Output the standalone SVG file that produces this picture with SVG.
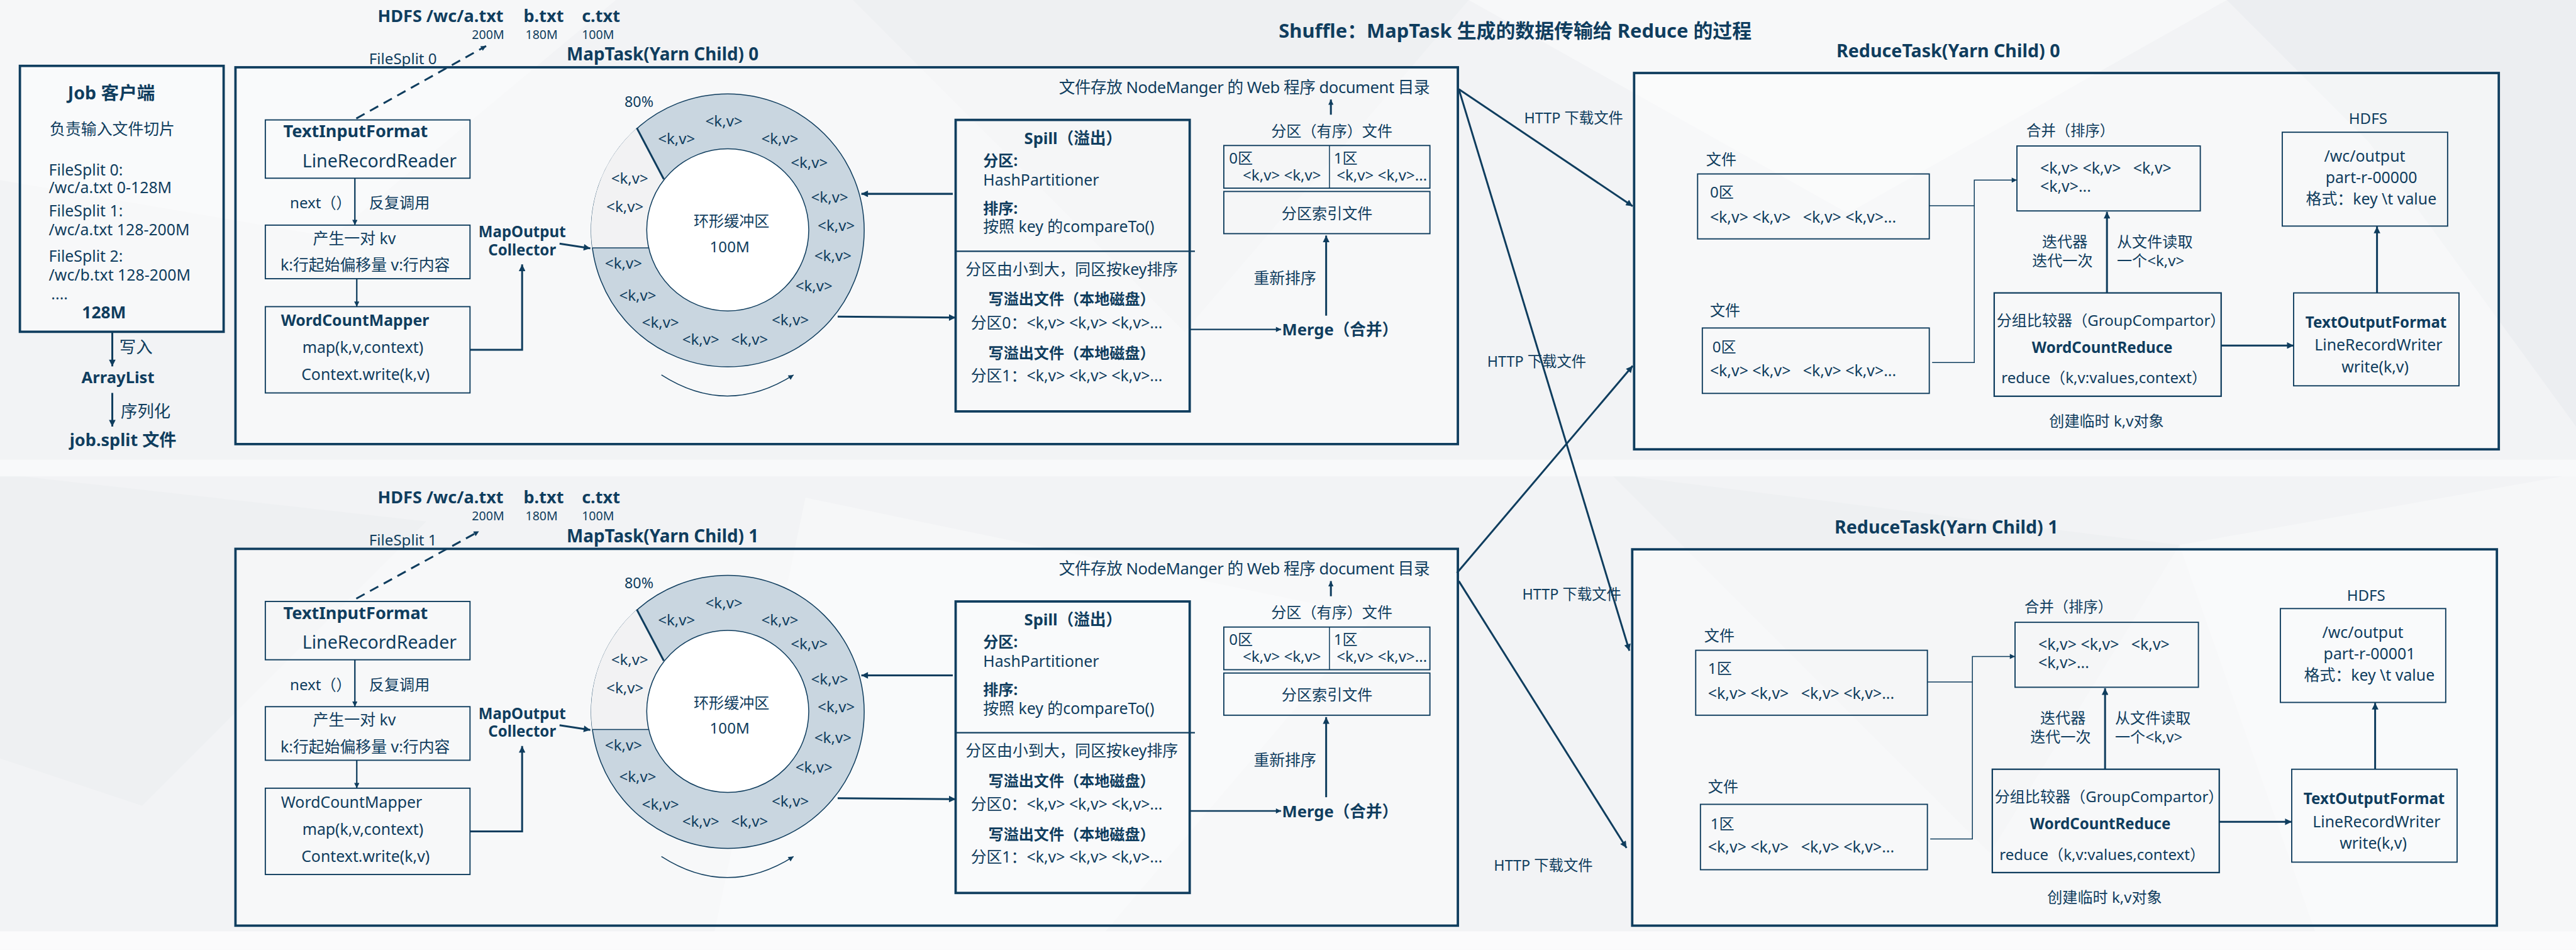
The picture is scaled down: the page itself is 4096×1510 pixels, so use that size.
<svg xmlns="http://www.w3.org/2000/svg" width="4096" height="1510" viewBox="0 0 4096 1510">
<defs>
<marker id="ah" viewBox="0 0 10 10" refX="10" refY="5" markerWidth="18" markerHeight="14" markerUnits="userSpaceOnUse" orient="auto"><path d="M0,0 L10,5 L0,10 z" fill="#0f3d5e"/></marker>
<marker id="ahs" viewBox="0 0 10 10" refX="10" refY="5" markerWidth="14" markerHeight="11" markerUnits="userSpaceOnUse" orient="auto"><path d="M0,0 L10,5 L0,10 z" fill="#0f3d5e"/></marker>
</defs>
<style>
text{font-family:"Noto Sans","Noto Sans CJK SC",sans-serif;fill:#0f3d5e;font-size:33px}
.b{font-weight:700}
.m{text-anchor:middle}
.s26{font-size:26px}.s31{font-size:31px}.s32{font-size:32px}.s33{font-size:33px}.s34{font-size:34px}.s35{font-size:35px}.s36{font-size:36px}.s37{font-size:37px}.s38{font-size:38px}.s41{font-size:41px}
.kv{font-size:32px;text-anchor:middle}
.box{fill:none;stroke:#0f3d5e;stroke-width:2.5}
.frame{fill:#ffffff;fill-opacity:.4;stroke:#0f3d5e;stroke-width:5}
.ln{fill:none;stroke:#0f3d5e;stroke-width:4}
.ln3{fill:none;stroke:#0f3d5e;stroke-width:3}
.ln2{fill:none;stroke:#0f3d5e;stroke-width:2}
.dash{fill:none;stroke:#0f3d5e;stroke-width:4;stroke-dasharray:20 13}
</style>
<g transform="scale(0.75336)">
<g id="background">
<rect x="0" y="0" width="5437" height="2004" fill="#f2f3f5"/>
<polygon points="0,0 1300,0 700,500 0,380" fill="#f6f7f8"/>
<polygon points="1800,0 3100,0 2500,700" fill="#eef0f2"/>
<polygon points="3100,0 4700,0 3900,450" fill="#f7f8f9"/>
<polygon points="4700,0 5437,0 5437,900 5000,300" fill="#eceef1"/>
<polygon points="0,1000 900,1100 300,1700 0,1600" fill="#eef0f2"/>
<polygon points="1700,1050 2900,1300 2300,2004 1500,2004" fill="#f6f7f8"/>
<polygon points="3400,1000 4600,1150 4200,1800" fill="#eef0f2"/>
<polygon points="4600,1150 5437,1000 5437,2004 4900,2004" fill="#f6f7f8"/>
<rect x="0" y="970" width="5437" height="35" fill="#f8f9fa"/>
<rect x="0" y="1965" width="5437" height="39" fill="#fbfbfc"/>
</g>

<text id="title" class="b s41" x="2699" y="80">Shuffle：MapTask 生成的数据传输给 Reduce 的过程</text>

<g id="job-client">
<rect class="frame" x="42" y="139" width="430" height="561"/>
<text class="b s38 m" x="235" y="210">Job 客户端</text>
<text x="105" y="284">负责输入文件切片</text>
<text x="103" y="370">FileSplit 0:</text>
<text x="103" y="408">/wc/a.txt 0-128M</text>
<text x="103" y="456">FileSplit 1:</text>
<text x="103" y="496">/wc/a.txt 128-200M</text>
<text x="103" y="552">FileSplit 2:</text>
<text x="103" y="592">/wc/b.txt 128-200M</text>
<text x="108" y="632">....</text>
<text class="b s35" x="173" y="672">128M</text>
</g>
<g id="arraylist">
<text class="s35" x="252" y="745">写入</text>
<text class="b s34 m" x="249" y="809">ArrayList</text>
</g>
<g id="jobsplit">
<text class="s35" x="255" y="880">序列化</text>
<text class="b s36" x="147" y="941">job.split 文件</text>
</g>

<g id="maptask0">
<text class="b s36" x="797" y="46">HDFS /wc/a.txt</text>
<text class="b s36" x="1105" y="46">b.txt</text>
<text class="b s36" x="1228" y="46">c.txt</text>
<text class="s26" x="996" y="82">200M</text>
<text class="s26" x="1109" y="82">180M</text>
<text class="s26" x="1228" y="82">100M</text>
<text class="s32" x="779" y="135">FileSplit 0</text>
<text class="b s37" x="1196" y="128">MapTask(Yarn Child) 0</text>
<rect class="frame" x="497" y="142" width="2580" height="795"/>
<g id="mt0-textinput">
<rect class="box" x="560" y="253" width="432" height="123"/>
<text class="b s36" x="598" y="290">TextInputFormat</text>
<text class="s38" x="638" y="353">LineRecordReader</text>
</g>
<text class="s32" x="612" y="440">next（）</text>
<text class="s32" x="779" y="440">反复调用</text>
<g id="mt0-kv">
<rect class="box" x="560" y="475" width="432" height="113"/>
<text class="m" x="748" y="515">产生一对 kv</text>
<text x="592" y="571">k:行起始偏移量 v:行内容</text>
</g>
<g id="mt0-mapper">
<rect class="box" x="560" y="647" width="432" height="182"/>
<text class="b s33" x="593" y="688">WordCountMapper</text>
<text x="638" y="745">map(k,v,context)</text>
<text x="636" y="802">Context.write(k,v)</text>
</g>
<g id="mt0-collector">
<text class="b s32 m" x="1102" y="501">MapOutput</text>
<text class="b s32 m" x="1102" y="539">Collector</text>
</g>
<g id="mt0-ring">
<circle cx="1536" cy="486" r="288" fill="#c9d6e0" stroke="#0f3d5e" stroke-width="2"/>
<path d="M1250,523 A288,288 0 0 1 1344,270 L1401,378 A171,171 0 0 0 1369,523 Z" fill="#f2f2f3"/>
<circle cx="1536" cy="485" r="171" fill="#ffffff" stroke="#0f3d5e" stroke-width="2"/>
<line x1="1250" y1="523" x2="1369" y2="523" stroke="#0f3d5e" stroke-width="2"/>
<line x1="1344" y1="270" x2="1401" y2="378" stroke="#0f3d5e" stroke-width="4"/>
<text class="s31" x="1318" y="225">80%</text>
<text class="s32 m" x="1544" y="478">环形缓冲区</text>
<text class="s32 m" x="1540" y="532">100M</text>
<text class="kv" x="1528" y="267">&lt;k,v&gt;</text>
<text class="kv" x="1428" y="304">&lt;k,v&gt;</text>
<text class="kv" x="1646" y="304">&lt;k,v&gt;</text>
<text class="kv" x="1708" y="354">&lt;k,v&gt;</text>
<text class="kv" x="1329" y="387">&lt;k,v&gt;</text>
<text class="kv" x="1751" y="428">&lt;k,v&gt;</text>
<text class="kv" x="1319" y="447">&lt;k,v&gt;</text>
<text class="kv" x="1765" y="487">&lt;k,v&gt;</text>
<text class="kv" x="1316" y="567">&lt;k,v&gt;</text>
<text class="kv" x="1758" y="551">&lt;k,v&gt;</text>
<text class="kv" x="1346" y="634">&lt;k,v&gt;</text>
<text class="kv" x="1718" y="614">&lt;k,v&gt;</text>
<text class="kv" x="1394" y="692">&lt;k,v&gt;</text>
<text class="kv" x="1668" y="686">&lt;k,v&gt;</text>
<text class="kv" x="1479" y="728">&lt;k,v&gt;</text>
<text class="kv" x="1582" y="728">&lt;k,v&gt;</text>
</g>
<g id="mt0-spill">
<rect x="2017" y="253" width="494" height="615" fill="none" stroke="#0f3d5e" stroke-width="5"/>
<line x1="2017" y1="530" x2="2522" y2="530" stroke="#0f3d5e" stroke-width="3"/>
<text class="b s34 m" x="2265" y="304">Spill（溢出）</text>
<text class="b s32" x="2075" y="350">分区:</text>
<text x="2075" y="391">HashPartitioner</text>
<text class="b s32" x="2075" y="451">排序:</text>
<text x="2075" y="490">按照 key 的compareTo()</text>
<text x="2038" y="580">分区由小到大，同区按key排序</text>
<text class="b s32 m" x="2262" y="643">写溢出文件（本地磁盘）</text>
<text x="2049" y="693">分区0：&lt;k,v&gt; &lt;k,v&gt; &lt;k,v&gt;...</text>
<text class="b s32 m" x="2262" y="756">写溢出文件（本地磁盘）</text>
<text x="2049" y="804">分区1：&lt;k,v&gt; &lt;k,v&gt; &lt;k,v&gt;...</text>
</g>
<g id="mt0-partfile">
<text class="s32" x="2683" y="288">分区（有序）文件</text>
<rect class="box" x="2583" y="307" width="435" height="90"/>
<line x1="2806" y1="307" x2="2806" y2="397" stroke="#0f3d5e" stroke-width="2"/>
<text class="s32" x="2594" y="345">0区</text>
<text class="s32" x="2623" y="381">&lt;k,v&gt; &lt;k,v&gt;</text>
<text class="s32" x="2815" y="345">1区</text>
<text class="s32" x="2821" y="381">&lt;k,v&gt; &lt;k,v&gt;...</text>
</g>
<g id="mt0-index">
<rect class="box" x="2583" y="404" width="435" height="89"/>
<text class="s32 m" x="2801" y="462">分区索引文件</text>
</g>
<text class="s33" x="2646" y="599">重新排序</text>
<text id="mt0-merge" class="b s34" x="2706" y="708">Merge（合并）</text>
<text id="mt0-store" class="s34" x="2235" y="196" textLength="783" lengthAdjust="spacing">文件存放 NodeManger 的 Web 程序 document 目录</text>
</g>

<g id="maptask1" transform="translate(0,1016)">
<text class="b s36" x="797" y="46">HDFS /wc/a.txt</text>
<text class="b s36" x="1105" y="46">b.txt</text>
<text class="b s36" x="1228" y="46">c.txt</text>
<text class="s26" x="996" y="82">200M</text>
<text class="s26" x="1109" y="82">180M</text>
<text class="s26" x="1228" y="82">100M</text>
<text class="s32" x="779" y="135">FileSplit 1</text>
<text class="b s37" x="1196" y="128">MapTask(Yarn Child) 1</text>
<rect class="frame" x="497" y="142" width="2580" height="795"/>
<g id="mt1-textinput">
<rect class="box" x="560" y="253" width="432" height="123"/>
<text class="b s36" x="598" y="290">TextInputFormat</text>
<text class="s38" x="638" y="353">LineRecordReader</text>
</g>
<text class="s32" x="612" y="440">next（）</text>
<text class="s32" x="779" y="440">反复调用</text>
<g id="mt1-kv">
<rect class="box" x="560" y="475" width="432" height="113"/>
<text class="m" x="748" y="515">产生一对 kv</text>
<text x="592" y="571">k:行起始偏移量 v:行内容</text>
</g>
<g id="mt1-mapper">
<rect class="box" x="560" y="647" width="432" height="182"/>
<text class="s33" x="593" y="688">WordCountMapper</text>
<text x="638" y="745">map(k,v,context)</text>
<text x="636" y="802">Context.write(k,v)</text>
</g>
<g id="mt1-collector">
<text class="b s32 m" x="1102" y="501">MapOutput</text>
<text class="b s32 m" x="1102" y="539">Collector</text>
</g>
<g id="mt1-ring">
<circle cx="1536" cy="486" r="288" fill="#c9d6e0" stroke="#0f3d5e" stroke-width="2"/>
<path d="M1250,523 A288,288 0 0 1 1344,270 L1401,378 A171,171 0 0 0 1369,523 Z" fill="#f2f2f3"/>
<circle cx="1536" cy="485" r="171" fill="#ffffff" stroke="#0f3d5e" stroke-width="2"/>
<line x1="1250" y1="523" x2="1369" y2="523" stroke="#0f3d5e" stroke-width="2"/>
<line x1="1344" y1="270" x2="1401" y2="378" stroke="#0f3d5e" stroke-width="4"/>
<text class="s31" x="1318" y="225">80%</text>
<text class="s32 m" x="1544" y="478">环形缓冲区</text>
<text class="s32 m" x="1540" y="532">100M</text>
<text class="kv" x="1528" y="267">&lt;k,v&gt;</text>
<text class="kv" x="1428" y="304">&lt;k,v&gt;</text>
<text class="kv" x="1646" y="304">&lt;k,v&gt;</text>
<text class="kv" x="1708" y="354">&lt;k,v&gt;</text>
<text class="kv" x="1329" y="387">&lt;k,v&gt;</text>
<text class="kv" x="1751" y="428">&lt;k,v&gt;</text>
<text class="kv" x="1319" y="447">&lt;k,v&gt;</text>
<text class="kv" x="1765" y="487">&lt;k,v&gt;</text>
<text class="kv" x="1316" y="567">&lt;k,v&gt;</text>
<text class="kv" x="1758" y="551">&lt;k,v&gt;</text>
<text class="kv" x="1346" y="634">&lt;k,v&gt;</text>
<text class="kv" x="1718" y="614">&lt;k,v&gt;</text>
<text class="kv" x="1394" y="692">&lt;k,v&gt;</text>
<text class="kv" x="1668" y="686">&lt;k,v&gt;</text>
<text class="kv" x="1479" y="728">&lt;k,v&gt;</text>
<text class="kv" x="1582" y="728">&lt;k,v&gt;</text>
</g>
<g id="mt1-spill">
<rect x="2017" y="253" width="494" height="615" fill="none" stroke="#0f3d5e" stroke-width="5"/>
<line x1="2017" y1="530" x2="2522" y2="530" stroke="#0f3d5e" stroke-width="3"/>
<text class="b s34 m" x="2265" y="304">Spill（溢出）</text>
<text class="b s32" x="2075" y="350">分区:</text>
<text x="2075" y="391">HashPartitioner</text>
<text class="b s32" x="2075" y="451">排序:</text>
<text x="2075" y="490">按照 key 的compareTo()</text>
<text x="2038" y="580">分区由小到大，同区按key排序</text>
<text class="b s32 m" x="2262" y="643">写溢出文件（本地磁盘）</text>
<text x="2049" y="693">分区0：&lt;k,v&gt; &lt;k,v&gt; &lt;k,v&gt;...</text>
<text class="b s32 m" x="2262" y="756">写溢出文件（本地磁盘）</text>
<text x="2049" y="804">分区1：&lt;k,v&gt; &lt;k,v&gt; &lt;k,v&gt;...</text>
</g>
<g id="mt1-partfile">
<text class="s32" x="2683" y="288">分区（有序）文件</text>
<rect class="box" x="2583" y="307" width="435" height="90"/>
<line x1="2806" y1="307" x2="2806" y2="397" stroke="#0f3d5e" stroke-width="2"/>
<text class="s32" x="2594" y="345">0区</text>
<text class="s32" x="2623" y="381">&lt;k,v&gt; &lt;k,v&gt;</text>
<text class="s32" x="2815" y="345">1区</text>
<text class="s32" x="2821" y="381">&lt;k,v&gt; &lt;k,v&gt;...</text>
</g>
<g id="mt1-index">
<rect class="box" x="2583" y="404" width="435" height="89"/>
<text class="s32 m" x="2801" y="462">分区索引文件</text>
</g>
<text class="s33" x="2646" y="599">重新排序</text>
<text id="mt1-merge" class="b s34" x="2706" y="708">Merge（合并）</text>
<text id="mt1-store" class="s34" x="2235" y="196" textLength="783" lengthAdjust="spacing">文件存放 NodeManger 的 Web 程序 document 目录</text>
</g>

<g id="reducetask0">
<text class="b s38" x="3876" y="121">ReduceTask(Yarn Child) 0</text>
<rect class="frame" x="3449" y="154" width="1825" height="794"/>
<g id="rt0-file0">
<text class="s32" x="3601" y="348">文件</text>
<rect class="box" x="3583" y="367" width="489" height="137"/>
<text class="s32" x="3609" y="417">0区</text>
<text x="3609" y="470" xml:space="preserve">&lt;k,v&gt; &lt;k,v&gt;   &lt;k,v&gt; &lt;k,v&gt;...</text>
</g>
<g id="rt0-file1">
<text class="s32" x="3609" y="666">文件</text>
<rect class="box" x="3593" y="692" width="479" height="138"/>
<text class="s32" x="3614" y="744">0区</text>
<text x="3609" y="794" xml:space="preserve">&lt;k,v&gt; &lt;k,v&gt;   &lt;k,v&gt; &lt;k,v&gt;...</text>
</g>
<g id="rt0-merge">
<text class="s31" x="4277" y="287">合并（排序）</text>
<rect class="box" x="4257" y="308" width="387" height="137"/>
<text x="4306" y="366" xml:space="preserve">&lt;k,v&gt; &lt;k,v&gt;   &lt;k,v&gt;</text>
<text x="4306" y="405">&lt;k,v&gt;...</text>
</g>
<text class="s32 m" x="4358" y="522">迭代器</text>
<text class="s32 m" x="4353" y="561">迭代一次</text>
<text class="s32" x="4468" y="522">从文件读取</text>
<text class="s32" x="4468" y="561">一个&lt;k,v&gt;</text>
<g id="rt0-reduce">
<rect x="4209" y="618" width="479" height="218" fill="none" stroke="#0f3d5e" stroke-width="3"/>
<text class="s32" x="4214" y="688">分组比较器（GroupCompartor）</text>
<text class="b s32 m" x="4437" y="745">WordCountReduce</text>
<text class="s32" x="4224" y="809">reduce（k,v:values,context）</text>
</g>
<text class="s32" x="4325" y="900">创建临时 k,v对象</text>
<g id="rt0-output">
<rect class="box" x="4841" y="618" width="349" height="196"/>
<text class="b s32 m" x="5015" y="692">TextOutputFormat</text>
<text class="m" x="5020" y="740">LineRecordWriter</text>
<text class="m" x="5013" y="786">write(k,v)</text>
</g>
<g id="rt0-hdfs">
<text class="s32 m" x="4998" y="262">HDFS</text>
<rect class="box" x="4817" y="279" width="349" height="198"/>
<text class="m" x="4991" y="341">/wc/output</text>
<text class="m" x="5005" y="386">part-r-00000</text>
<text x="4867" y="431">格式：key \t value</text>
</g>
</g>

<g id="reducetask1" transform="translate(-4,1005)">
<text class="b s38" x="3876" y="121">ReduceTask(Yarn Child) 1</text>
<rect class="frame" x="3449" y="154" width="1825" height="794"/>
<g id="rt1-file0">
<text class="s32" x="3601" y="348">文件</text>
<rect class="box" x="3583" y="367" width="489" height="137"/>
<text class="s32" x="3609" y="417">1区</text>
<text x="3609" y="470" xml:space="preserve">&lt;k,v&gt; &lt;k,v&gt;   &lt;k,v&gt; &lt;k,v&gt;...</text>
</g>
<g id="rt1-file1">
<text class="s32" x="3609" y="666">文件</text>
<rect class="box" x="3593" y="692" width="479" height="138"/>
<text class="s32" x="3614" y="744">1区</text>
<text x="3609" y="794" xml:space="preserve">&lt;k,v&gt; &lt;k,v&gt;   &lt;k,v&gt; &lt;k,v&gt;...</text>
</g>
<g id="rt1-merge">
<text class="s31" x="4277" y="287">合并（排序）</text>
<rect class="box" x="4257" y="308" width="387" height="137"/>
<text x="4306" y="366" xml:space="preserve">&lt;k,v&gt; &lt;k,v&gt;   &lt;k,v&gt;</text>
<text x="4306" y="405">&lt;k,v&gt;...</text>
</g>
<text class="s32 m" x="4358" y="522">迭代器</text>
<text class="s32 m" x="4353" y="561">迭代一次</text>
<text class="s32" x="4468" y="522">从文件读取</text>
<text class="s32" x="4468" y="561">一个&lt;k,v&gt;</text>
<g id="rt1-reduce">
<rect x="4209" y="618" width="479" height="218" fill="none" stroke="#0f3d5e" stroke-width="3"/>
<text class="s32" x="4214" y="688">分组比较器（GroupCompartor）</text>
<text class="b s32 m" x="4437" y="745">WordCountReduce</text>
<text class="s32" x="4224" y="809">reduce（k,v:values,context）</text>
</g>
<text class="s32" x="4325" y="900">创建临时 k,v对象</text>
<g id="rt1-output">
<rect class="box" x="4841" y="618" width="349" height="196"/>
<text class="b s32 m" x="5015" y="692">TextOutputFormat</text>
<text class="m" x="5020" y="740">LineRecordWriter</text>
<text class="m" x="5013" y="786">write(k,v)</text>
</g>
<g id="rt1-hdfs">
<text class="s32 m" x="4998" y="262">HDFS</text>
<rect class="box" x="4817" y="279" width="349" height="198"/>
<text class="m" x="4991" y="341">/wc/output</text>
<text class="m" x="5005" y="386">part-r-00001</text>
<text x="4867" y="431">格式：key \t value</text>
</g>
</g>

<g id="connectors">
<path class="ln" d="M237,700 V773" marker-end="url(#ah)"/>
<path class="ln" d="M237,829 V900" marker-end="url(#ah)"/>
<path class="dash" d="M752,250 L1026,97" marker-end="url(#ahs)"/>
<path class="ln3" d="M749,376 V475" marker-end="url(#ahs)"/>
<path class="ln3" d="M753,588 V647" marker-end="url(#ahs)"/>
<path class="ln" d="M992,738 H1102 V558" marker-end="url(#ah)"/>
<path class="ln" d="M1181,514 L1246,524" marker-end="url(#ah)"/>
<path class="ln2" d="M1396,791 Q1535,880 1675,791" marker-end="url(#ahs)"/>
<path class="ln" d="M2011,409 H1818" marker-end="url(#ah)"/>
<path class="ln" d="M1768,668 L2017,670" marker-end="url(#ah)"/>
<path class="ln3" d="M2512,695 H2704" marker-end="url(#ahs)"/>
<path class="ln" d="M2799,666 V497" marker-end="url(#ah)"/>
<path class="ln" d="M2809,242 V210" marker-end="url(#ahs)"/>
<path class="dash" d="M752,1263 L1011,1121" marker-end="url(#ahs)"/>
<path class="ln3" d="M749,1392 V1491" marker-end="url(#ahs)"/>
<path class="ln3" d="M753,1604 V1663" marker-end="url(#ahs)"/>
<path class="ln" d="M992,1754 H1102 V1574" marker-end="url(#ah)"/>
<path class="ln" d="M1181,1530 L1246,1540" marker-end="url(#ah)"/>
<path class="ln2" d="M1396,1807 Q1535,1896 1675,1807" marker-end="url(#ahs)"/>
<path class="ln" d="M2011,1425 H1818" marker-end="url(#ah)"/>
<path class="ln" d="M1768,1684 L2017,1686" marker-end="url(#ah)"/>
<path class="ln3" d="M2512,1711 H2704" marker-end="url(#ahs)"/>
<path class="ln" d="M2799,1682 V1513" marker-end="url(#ah)"/>
<path class="ln" d="M2809,1258 V1226" marker-end="url(#ahs)"/>
<path class="ln" d="M3079,188 L3446,435" marker-end="url(#ah)"/>
<path class="ln" d="M3079,188 L3439,1373" marker-end="url(#ah)"/>
<path class="ln" d="M3075,1209 L3446,772" marker-end="url(#ah)"/>
<path class="ln" d="M3079,1226 L3433,1789" marker-end="url(#ah)"/>
<text class="s31" x="3217" y="260">HTTP 下载文件</text>
<text class="s31" x="3139" y="774">HTTP 下载文件</text>
<text class="s31" x="3213" y="1265">HTTP 下载文件</text>
<text class="s31" x="3153" y="1837">HTTP 下载文件</text>
<path class="ln2" d="M4072,434 H4167 V380 H4257" marker-end="url(#ahs)"/>
<path class="ln2" d="M4078,765 H4167 V434"/>
<path class="ln" d="M4447,618 V447" marker-end="url(#ah)"/>
<path class="ln" d="M4688,729 H4841" marker-end="url(#ah)"/>
<path class="ln" d="M5017,618 V478" marker-end="url(#ah)"/>
<path class="ln2" d="M4068,1439 H4163 V1385 H4253" marker-end="url(#ahs)"/>
<path class="ln2" d="M4074,1770 H4163 V1439"/>
<path class="ln" d="M4443,1623 V1452" marker-end="url(#ah)"/>
<path class="ln" d="M4684,1734 H4837" marker-end="url(#ah)"/>
<path class="ln" d="M5013,1623 V1483" marker-end="url(#ah)"/>
</g>
</g>
</svg>
